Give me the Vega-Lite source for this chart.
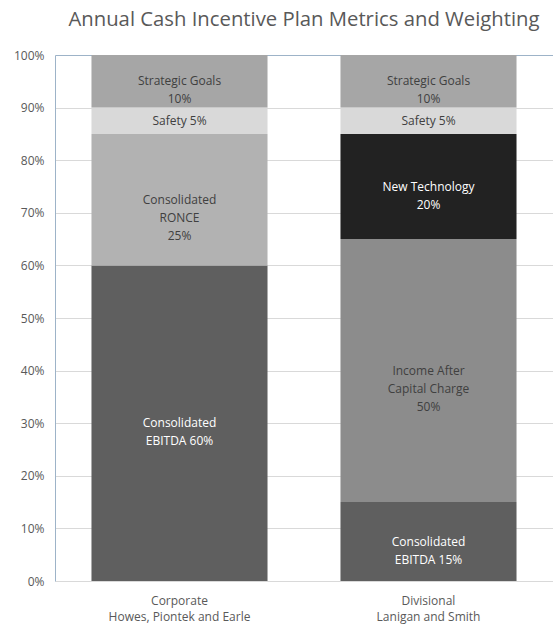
{
  "$schema": "https://vega.github.io/schema/vega-lite/v6.json",
  "autosize": {"type": "none"},
  "padding": {"left": 55, "top": 55, "right": 0, "bottom": 43},
  "width": 498,
  "height": 526,
  "background": "white",
  "title": {
    "text": "Annual Cash Incentive Plan Metrics and Weighting",
    "font": "Open Sans",
    "fontSize": 20.3,
    "fontWeight": "normal",
    "color": "#595959",
    "offset": 19,
    "anchor": "middle"
  },
  "config": {
    "view": {"stroke": null},
    "font": "Open Sans"
  },
  "data": {
    "values": [
      {"group": "Corporate|Howes, Piontek and Earle", "metric": "Consolidated EBITDA", "order": 1, "pct": 60, "label": ["Consolidated", "EBITDA 60%"]},
      {"group": "Corporate|Howes, Piontek and Earle", "metric": "Consolidated RONCE", "order": 2, "pct": 25, "label": ["Consolidated", "RONCE", "25%"]},
      {"group": "Corporate|Howes, Piontek and Earle", "metric": "Safety", "order": 4, "pct": 5, "label": ["Safety 5%"]},
      {"group": "Corporate|Howes, Piontek and Earle", "metric": "Strategic Goals", "order": 5, "pct": 10, "label": ["Strategic Goals", "10%"]},
      {"group": "Divisional|Lanigan and Smith", "metric": "Consolidated EBITDA", "order": 1, "pct": 15, "label": ["Consolidated", "EBITDA 15%"]},
      {"group": "Divisional|Lanigan and Smith", "metric": "Income After Capital Charge", "order": 2, "pct": 50, "label": ["Income After", "Capital Charge", "50%"]},
      {"group": "Divisional|Lanigan and Smith", "metric": "New Technology", "order": 3, "pct": 20, "label": ["New Technology", "20%"]},
      {"group": "Divisional|Lanigan and Smith", "metric": "Safety", "order": 4, "pct": 5, "label": ["Safety 5%"]},
      {"group": "Divisional|Lanigan and Smith", "metric": "Strategic Goals", "order": 5, "pct": 10, "label": ["Strategic Goals", "10%"]}
    ]
  },
  "transform": [
    {"stack": "pct", "groupby": ["group"], "sort": [{"field": "order"}], "as": ["y0", "y1"]},
    {"calculate": "(datum.y0 + datum.y1) / 2", "as": "mid"}
  ],
  "encoding": {
    "x": {
      "field": "group",
      "type": "nominal",
      "sort": null,
      "scale": {"paddingInner": 0.293, "paddingOuter": 0.1465},
      "axis": {
        "title": null,
        "labelAngle": 0,
        "labelExpr": "split(datum.label, '|')",
        "labelFont": "Open Sans",
        "labelFontSize": 12,
        "labelColor": "#595959",
        "labelPadding": 14,
        "labelLineHeight": 16,
        "ticks": false,
        "domain": false,
        "grid": false
      }
    }
  },
  "layer": [
    {
      "mark": {"type": "bar"},
      "encoding": {
        "y": {
          "field": "y0",
          "type": "quantitative",
          "scale": {"domain": [0, 100]},
          "axis": {
            "title": null,
            "values": [0, 10, 20, 30, 40, 50, 60, 70, 80, 90, 100],
            "labelExpr": "datum.value + '%'",
            "labelFont": "Open Sans",
            "labelFontSize": 12,
            "labelColor": "#595959",
            "labelPadding": 11,
            "ticks": false,
            "domain": true,
            "domainColor": "#9DB3C8",
            "grid": true,
            "gridColor": {"condition": {"test": "datum.value == 100", "value": "#9DB3C8"}, "value": "#D9D9D9"}
          }
        },
        "y2": {"field": "y1"},
        "color": {
          "field": "metric",
          "type": "nominal",
          "scale": {
            "domain": ["Consolidated EBITDA", "Consolidated RONCE", "Income After Capital Charge", "New Technology", "Safety", "Strategic Goals"],
            "range": ["#5F5F5F", "#B2B2B2", "#8C8C8C", "#222222", "#D9D9D9", "#A6A6A6"]
          },
          "legend": null
        }
      }
    },
    {
      "mark": {"type": "text", "font": "Open Sans", "fontSize": 12, "lineHeight": 18, "baseline": "middle", "align": "center"},
      "encoding": {
        "y": {"field": "mid", "type": "quantitative"},
        "text": {"field": "label"},
        "color": {
          "condition": {"test": "datum.metric == 'Consolidated EBITDA' || datum.metric == 'New Technology'", "value": "#FFFFFF"},
          "value": "#404040"
        }
      }
    }
  ]
}
